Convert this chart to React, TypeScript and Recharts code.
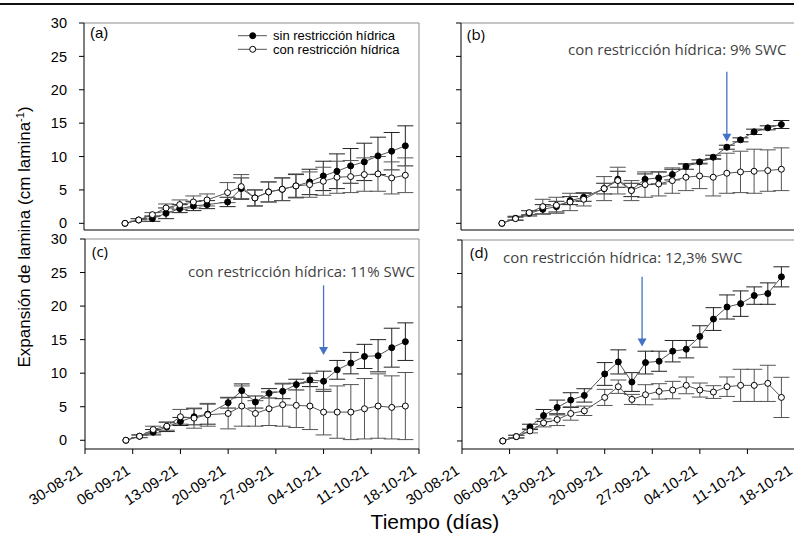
import { LineChart, Line, XAxis, YAxis, ErrorBar, ReferenceLine } from 'recharts';

// measurement days, counted from 30-08-21
const days = [6, 8, 10, 12, 14, 16, 18, 21, 23, 25, 27, 29, 31, 33, 35, 37, 39, 41, 43, 45, 47];
const dateTicks = [0, 7, 14, 21, 28, 35, 42, 49];
const dateLabels = ['30-08-21', '06-09-21', '13-09-21', '20-09-21', '27-09-21', '04-10-21', '11-10-21', '18-10-21'];
const yTicks = [0, 5, 10, 15, 20, 25, 30];

// (a)
const aSin = [0, 0.5, 0.7, 1.5, 2.2, 2.6, 2.8, 3.2, 5.2, 3.8, 4.7, 5.1, 5.6, 6.2, 7.1, 7.8, 8.6, 9.2, 10.1, 10.8, 11.6];
const aSinErr = [0, 0.2, 0.4, 0.8, 0.6, 0.7, 0.6, 0.7, 1.6, 1.2, 1.5, 1.7, 1.7, 1.9, 2.2, 2.6, 2.6, 2.8, 2.8, 2.8, 3.0];
const aCon = [0, 0.5, 1.3, 2.3, 2.8, 3.2, 3.5, 4.6, 5.5, 3.8, 4.7, 5.1, 5.6, 5.8, 6.3, 6.9, 7.0, 7.3, 7.4, 6.8, 7.2];
const aConErr = [0, 0.2, 0.3, 0.6, 0.7, 0.9, 0.9, 1.5, 1.8, 1.2, 1.5, 1.7, 1.8, 1.9, 2.1, 2.4, 2.4, 2.5, 2.6, 2.4, 2.6];

// (b)
const bSin = [0, 0.75, 1.5, 2.1, 2.5, 3.4, 3.9, 5.2, 6.6, 5.0, 6.6, 6.8, 7.3, 8.5, 9.2, 9.9, 11.4, 12.5, 13.7, 14.3, 14.8];
const bSinErr = [0, 0.3, 0.4, 0.7, 0.8, 0.6, 0.6, 0.8, 1.2, 1.0, 0.8, 0.9, 0.8, 0.4, 0.3, 0.3, 0.3, 0.3, 0.4, 0.3, 0.6];
const bCon = [0, 0.7, 1.6, 2.5, 2.7, 3.2, 3.6, 5.2, 6.4, 4.9, 5.8, 5.9, 6.4, 6.9, 7.1, 6.9, 7.5, 7.7, 7.8, 7.9, 8.1];
const bConErr = [0, 0.2, 0.3, 1.1, 1.2, 1.3, 1.0, 1.8, 2.0, 1.5, 1.9, 1.8, 1.9, 2.0, 1.9, 2.8, 3.0, 3.1, 3.3, 3.1, 3.2];

// (c)
const cSin = [0, 0.6, 1.2, 2.0, 2.8, 3.5, 3.9, 5.6, 7.4, 5.7, 7.0, 7.3, 8.3, 9.0, 8.8, 10.5, 11.5, 12.5, 12.6, 13.8, 14.7];
const cSinErr = [0, 0.2, 0.4, 0.7, 0.6, 1.2, 1.5, 0.8, 1.0, 0.9, 0.7, 1.1, 0.8, 1.0, 1.5, 1.4, 1.6, 1.8, 2.4, 2.9, 2.8];
const cCon = [0, 0.6, 1.6, 2.1, 3.5, 3.3, 3.8, 4.0, 5.1, 4.0, 4.7, 5.3, 5.2, 5.1, 4.2, 4.2, 4.2, 4.7, 5.1, 4.9, 5.1];
const cConErr = [0, 0.2, 0.5, 0.6, 1.1, 1.5, 1.7, 2.3, 3.0, 1.9, 2.5, 3.2, 3.3, 3.5, 3.4, 3.9, 4.1, 4.5, 4.8, 4.7, 5.0];

// (d)
const dSin = [0, 0.65, 2.1, 3.8, 5.0, 6.1, 6.8, 10.0, 11.8, 8.8, 11.7, 11.9, 13.4, 13.7, 15.6, 18.2, 20.0, 20.5, 21.7, 22.0, 24.5];
const dSinErr = [0, 0.2, 0.4, 0.9, 1.1, 1.1, 1.0, 1.7, 1.8, 1.4, 1.7, 1.5, 1.6, 1.3, 1.6, 1.7, 1.8, 1.9, 1.3, 1.6, 1.5];
const dCon = [0, 0.65, 1.5, 2.7, 3.2, 4.1, 4.5, 6.5, 8.1, 6.2, 6.9, 7.4, 7.6, 8.3, 7.6, 7.3, 8.1, 8.3, 8.3, 8.6, 6.5];
const dConErr = [0, 0.2, 0.3, 0.6, 0.9, 1.0, 0.7, 1.2, 1.0, 0.75, 1.5, 1.15, 1.3, 1.25, 1.05, 0.95, 1.45, 2.4, 2.4, 2.7, 3.0];

const ARIAL = '"Liberation Sans", Arial, sans-serif';
const CALIBRI = '"Open Sans", "Noto Sans", sans-serif';
const BLUE = '#4472c4';

function rows(sin: number[], sinErr: number[], con: number[], conErr: number[]) {
  return days.map((d, i) => ({ day: d, sin: sin[i], sinErr: sinErr[i], con: con[i], conErr: conErr[i] }));
}

function Arrow(props: any) {
  const { x1, y1, x2, y2 } = props;
  const top = Math.min(y1, y2);
  const tip = Math.max(y1, y2);
  return (
    <g>
      <line x1={x1} y1={top} x2={x2} y2={tip - 7} stroke={BLUE} strokeWidth={1.3} />
      <polygon points={`${x2 - 4.5},${tip - 8} ${x2 + 4.5},${tip - 8} ${x2},${tip}`} fill={BLUE} />
    </g>
  );
}

// rotated date label, its upper right corner sits just under the tick
function DateTick({ x, y, payload }: any) {
  const label = dateLabels[dateTicks.indexOf(payload.value)];
  const ax = x - 8;
  const ay = y + 8;
  return (
    <text x={ax} y={ay} dy="0.8em" textAnchor="end" transform={`rotate(-33 ${ax} ${ay})`}
      fill="#000" fontSize={15} fontFamily={ARIAL}>
      {label}
    </text>
  );
}

type PanelProps = {
  left: number; top: number; width: number; height: number;
  marginTop: number; marginRight: number; yAxisWidth: number; xAxisHeight: number;
  yMin: number; showX: boolean; showY: boolean; yTickMargin: number;
  data: ReturnType<typeof rows>;
  arrow?: { x: number; from: number; to: number };
};

function Panel(p: PanelProps) {
  return (
    <div style={{ position: 'absolute', left: p.left, top: p.top }}>
      <LineChart width={p.width} height={p.height} data={p.data}
        margin={{ top: p.marginTop, right: p.marginRight, left: 0, bottom: 0 }}>
        <XAxis dataKey="day" type="number" domain={[0, 49]} ticks={dateTicks} interval={0}
          height={p.xAxisHeight} stroke="#000" tickSize={5} tickMargin={1}
          tick={p.showX ? <DateTick /> : false} />
        <YAxis type="number" domain={[p.yMin, 30]} ticks={yTicks} interval={0}
          width={p.yAxisWidth} stroke="#000" tickSize={5} tickMargin={p.yTickMargin}
          tickFormatter={(v: number) => (p.showY ? String(v) : '')}
          tick={{ fill: '#000', fontSize: 14.5, fontFamily: ARIAL }} />
        <ReferenceLine y={30} stroke="#8c8c8c" />
        <ReferenceLine x={49} stroke="#8c8c8c" />
        <Line type="linear" dataKey="sin" stroke="#555" strokeWidth={1}
          dot={{ r: 3, fill: '#000', stroke: '#000', strokeWidth: 1 }} isAnimationActive={false}>
          <ErrorBar dataKey="sinErr" width={8} stroke="#222" strokeWidth={1} direction="y" />
        </Line>
        <Line type="linear" dataKey="con" stroke="#555" strokeWidth={1}
          dot={{ r: 3, fill: '#fff', stroke: '#000', strokeWidth: 1 }} isAnimationActive={false}>
          <ErrorBar dataKey="conErr" width={8} stroke="#555" strokeWidth={1} direction="y" />
        </Line>
        {p.arrow && (
          <ReferenceLine segment={[{ x: p.arrow.x, y: p.arrow.from }, { x: p.arrow.x, y: p.arrow.to }]}
            shape={Arrow} />
        )}
      </LineChart>
    </div>
  );
}

const noteStyle = { position: 'absolute' as const, fontFamily: CALIBRI, fontSize: 15, color: '#3f3f3f', whiteSpace: 'nowrap' as const, lineHeight: 1 };

export default function App() {
  return (
    <div style={{ position: 'absolute', left: 0, top: 0, width: 794, height: 538, overflow: 'hidden', background: '#fff' }}>
      <div style={{ position: 'absolute', left: 0, top: 3, width: 794, height: 2, background: '#111' }} />

      <Panel left={0} top={0} width={430} height={245} marginTop={23} marginRight={11}
        yAxisWidth={84} xAxisHeight={15} yMin={-1} showX={false} showY yTickMargin={12}
        data={rows(aSin, aSinErr, aCon, aConErr)} />
      <Panel left={380} top={0} width={420} height={245} marginTop={23} marginRight={5}
        yAxisWidth={81} xAxisHeight={15} yMin={-1} showX={false} showY={false} yTickMargin={12}
        data={rows(bSin, bSinErr, bCon, bConErr)} arrow={{ x: 39, from: 22.7, to: 12.2 }} />
      <Panel left={0} top={230} width={430} height={308} marginTop={9} marginRight={11}
        yAxisWidth={85} xAxisHeight={89} yMin={-1.3} showX showY yTickMargin={13}
        data={rows(cSin, cSinErr, cCon, cConErr)} arrow={{ x: 35, from: 23.1, to: 12.7 }} />
      <Panel left={380} top={230} width={420} height={308} marginTop={10} marginRight={5}
        yAxisWidth={82} xAxisHeight={89} yMin={-1.2} showX showY={false} yTickMargin={12}
        data={rows(dSin, dSinErr, dCon, dConErr)} arrow={{ x: 26.5, from: 24.5, to: 14.1 }} />

      <svg width={794} height={538} style={{ position: 'absolute', left: 0, top: 0, pointerEvents: 'none' }}>
        <text x={90} y={38} fontFamily={ARIAL} fontSize={15} fill="#000">(a)</text>
        <text x={92} y={257} fontFamily={CALIBRI} fontSize={15} fill="#000">(c)</text>
        <text x={467} y={40} fontFamily={CALIBRI} fontSize={15} fill="#000">(b)</text>
        <text x={470} y={258} fontFamily={CALIBRI} fontSize={15} fill="#000">(d)</text>

        {/* legend of panel (a) */}
        <line x1={238} y1={35.7} x2={267} y2={35.7} stroke="#555" strokeWidth={1} />
        <circle cx={252.7} cy={35.7} r={3} fill="#000" stroke="#000" />
        <text x={273} y={40.2} fontFamily={ARIAL} fontSize={13} fill="#000">sin restricción hídrica</text>
        <line x1={238} y1={49.3} x2={267} y2={49.3} stroke="#555" strokeWidth={1} />
        <circle cx={252.7} cy={49.3} r={3} fill="#fff" stroke="#000" />
        <text x={273} y={53.8} fontFamily={ARIAL} fontSize={13} fill="#000">con restricción hídrica</text>

        <text x={24} y={237} textAnchor="middle" transform="rotate(-90 24 237)" dy={6}
          fontFamily={ARIAL} fontSize={17} fill="#000">
          Expansión de lamina (cm lamina<tspan dy={-6} fontSize={11}>-1</tspan><tspan dy={6}>)</tspan>
        </text>
        <text x={435} y={529} textAnchor="middle" fontFamily={ARIAL} fontSize={21} fill="#000">Tiempo (días)</text>
      </svg>

      <div style={{ ...noteStyle, left: 568, top: 42 }}>con restricción hídrica: 9% SWC</div>
      <div style={{ ...noteStyle, left: 188, top: 264 }}>con restricción hídrica: 11% SWC</div>
      <div style={{ ...noteStyle, left: 503, top: 250 }}>con restricción hídrica: 12,3% SWC</div>
    </div>
  );
}
